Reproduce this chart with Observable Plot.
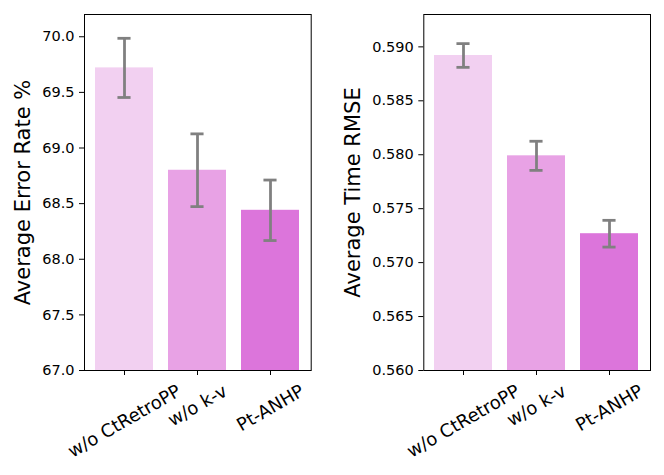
<!DOCTYPE html>
<html>
<head>
<meta charset="utf-8">
<script src="https://cdn.jsdelivr.net/npm/d3@7"></script>
<script src="https://cdn.jsdelivr.net/npm/@observablehq/plot@0.6"></script>
<style>
  body { margin: 0; background: #fff; }
  #wrap { display: flex; width: 664px; height: 475px; background: #fff; }
  svg { font-family: "DejaVu Sans", sans-serif; }
</style>
</head>
<body>
<div id="wrap"></div>
<script>
const categories = ["w/o CtRetroPP", "w/o k-v", "Pt-ANHP"];
const barColors = ["#f2d0f1", "#e8a2e5", "#dc75db"];

const errorRate = [69.72, 68.80, 68.44];
const errorRateStd = [0.266, 0.327, 0.272];
const errorTicks = [67.0, 67.5, 68.0, 68.5, 69.0, 69.5, 70.0];
const errorDomain = [67.0, 70.2];

const timeRmse = [0.5892, 0.5799, 0.57268];
const timeRmseStd = [0.0011, 0.00135, 0.00124];
const timeTicks = [0.560, 0.565, 0.570, 0.575, 0.580, 0.585, 0.590];
const timeDomain = [0.560, 0.5930];

const FONT = "DejaVu Sans";
const XFONT = 18, YFONT = 14.5, LFONT = 21;

function measure(text, size) {
  const c = document.createElement("canvas").getContext("2d");
  c.font = `${size}px "${FONT}"`;
  return c.measureText(text).width;
}

function panel({values, std, ticks, domain, fmt, label, ml, mr, labelX}) {
  const W = 332, H = 475, mt = 14, mb = 105;
  const rows = categories.map((c, i) => ({cat: c, v: values[i], lo: values[i] - std[i], hi: values[i] + std[i]}));
  const step = (W - ml - mr) / (3 - 0.2 + 0.28);
  const capInset = (0.8 * step - 14) / 2;
  const a = Math.PI / 6;
  const labelMarks = categories.map(c => {
    const w = measure(c, XFONT);
    const bh = w * Math.sin(a) + XFONT * 1.164 * Math.cos(a);
    return Plot.text([c], {
      x: d => d, frameAnchor: "bottom", text: d => d,
      rotate: -30, textAnchor: "middle", lineAnchor: "middle",
      dy: 10 + bh / 2, fontSize: XFONT, fill: "black"
    });
  });
  return Plot.plot({
    width: W, height: H,
    marginLeft: ml, marginRight: mr, marginTop: mt, marginBottom: mb,
    style: {fontFamily: FONT, background: "white"},
    x: {domain: categories, paddingInner: 0.2, paddingOuter: 0.14, axis: null},
    y: {domain, axis: null},
    color: {domain: categories, range: barColors},
    marks: [
      Plot.barY(rows, {x: "cat", y: "v", fill: "cat", clip: true}),
      Plot.ruleX(rows, {x: "cat", y1: "lo", y2: "hi", stroke: "#808080", strokeWidth: 2.8}),
      Plot.tickY(rows, {x: "cat", y: "lo", stroke: "#808080", strokeWidth: 2.8, insetLeft: capInset, insetRight: capInset}),
      Plot.tickY(rows, {x: "cat", y: "hi", stroke: "#808080", strokeWidth: 2.8, insetLeft: capInset, insetRight: capInset}),
      Plot.axisY({ticks, tickFormat: fmt, tickSize: 5, tickPadding: 5, fontSize: YFONT, label: null, stroke: "black", color: "black"}),
      Plot.axisX({tickSize: 5, tickFormat: () => "", label: null, stroke: "black"}),
      ...labelMarks,
      Plot.text([label], {frameAnchor: "left", text: d => d, rotate: -90, lineAnchor: "top", textAnchor: "middle", dx: labelX - ml, fontSize: LFONT, fill: "black"}),
      Plot.frame({stroke: "black", strokeWidth: 1})
    ]
  });
}

const wrap = document.getElementById("wrap");
wrap.append(panel({
  values: errorRate, std: errorRateStd, ticks: errorTicks, domain: errorDomain,
  fmt: d3.format(".1f"), label: "Average Error Rate %", ml: 84, mr: 21.3, labelX: 15
}));
wrap.append(panel({
  values: timeRmse, std: timeRmseStd, ticks: timeTicks, domain: timeDomain,
  fmt: d3.format(".3f"), label: "Average Time RMSE", ml: 91.3, mr: 14, labelX: 13
}));
</script>
</body>
</html>
